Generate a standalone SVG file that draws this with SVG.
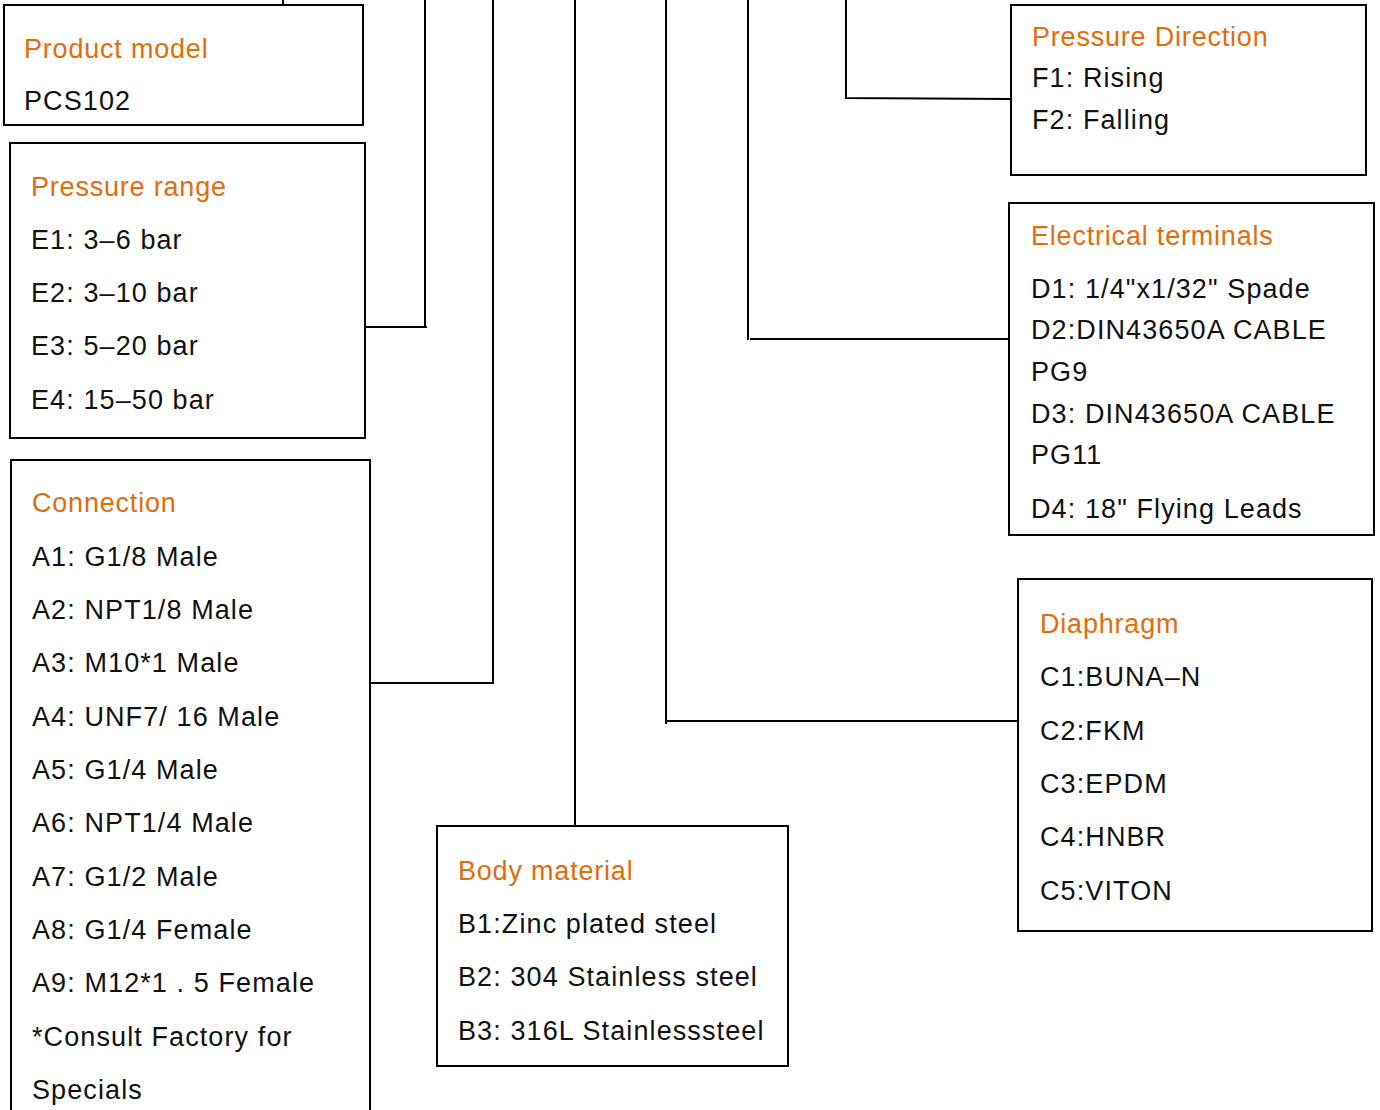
<svg xmlns="http://www.w3.org/2000/svg" width="1380" height="1110" viewBox="0 0 1380 1110">
<style>
.box{fill:#fff;stroke:#000;stroke-width:2}
.ln{fill:none;stroke:#000;stroke-width:2}
text{font-family:"Liberation Sans","Noto Sans CJK KR",sans-serif;font-size:27px;fill:#111;letter-spacing:1.1px}
.t{fill:#E46C0A;letter-spacing:0.8px}
</style>
<rect width="1380" height="1110" fill="#fff"/>
<g id="connectors">
<path class="ln" d="M283,0V4"/>
<path class="ln" d="M425,0V328M365,327H427"/>
<path class="ln" d="M493,0V683M370,683H494"/>
<path class="ln" d="M575,0V826"/>
<path class="ln" d="M666,0V724M666,721H1018"/>
<path class="ln" d="M748,0V340M750,339H1008"/>
<path class="ln" d="M846,0V99M845,98L1011,99"/>
</g>
<g id="product-model">
<rect class="box" x="4" y="5" width="359" height="120"/>
<text class="t" x="24" y="58">Product model</text>
<text x="24" y="110">PCS102</text>
</g>
<g id="pressure-range">
<rect class="box" x="10" y="143" width="355" height="295"/>
<text class="t" x="31" y="196">Pressure range</text>
<text x="31" y="249">E1: 3–6 bar</text>
<text x="31" y="302">E2: 3–10 bar</text>
<text x="31" y="355">E3: 5–20 bar</text>
<text x="31" y="409">E4: 15–50 bar</text>
</g>
<g id="connection">
<rect class="box" x="11" y="460" width="359" height="660"/>
<text class="t" x="32" y="512">Connection</text>
<text x="32" y="566">A1: G1/8 Male</text>
<text x="32" y="619">A2: NPT1/8 Male</text>
<text x="32" y="672">A3: M10*1 Male</text>
<text x="32" y="726">A4: UNF7/ 16 Male</text>
<text x="32" y="779">A5: G1/4 Male</text>
<text x="32" y="832">A6: NPT1/4 Male</text>
<text x="32" y="886">A7: G1/2 Male</text>
<text x="32" y="939">A8: G1/4 Female</text>
<text x="32" y="992">A9: M12*1 . 5 Female</text>
<text x="32" y="1046">*Consult Factory for</text>
<text x="32" y="1099">Specials</text>
</g>
<g id="body-material">
<rect class="box" x="437" y="826" width="351" height="240"/>
<text class="t" x="458" y="880">Body material</text>
<text x="458" y="933">B1:Zinc plated steel</text>
<text x="458" y="986">B2: 304 Stainless steel</text>
<text x="458" y="1040">B3: 316L Stainlesssteel</text>
</g>
<g id="pressure-direction">
<rect class="box" x="1011" y="5" width="355" height="170"/>
<text class="t" x="1032" y="46">Pressure Direction</text>
<text x="1032" y="87">F1: Rising</text>
<text x="1032" y="129">F2: Falling</text>
</g>
<g id="electrical-terminals">
<rect class="box" x="1009" y="203" width="365" height="332"/>
<text class="t" x="1031" y="245">Electrical terminals</text>
<text x="1031" y="298">D1: 1/4"x1/32" Spade</text>
<text x="1031" y="339">D2:DIN43650A CABLE</text>
<text x="1031" y="381">PG9</text>
<text x="1031" y="423">D3: DIN43650A CABLE</text>
<text x="1031" y="464">PG11</text>
<text x="1031" y="518">D4: 18" Flying Leads</text>
</g>
<g id="diaphragm">
<rect class="box" x="1018" y="579" width="354" height="352"/>
<text class="t" x="1040" y="633">Diaphragm</text>
<text x="1040" y="686">C1:BUNA–N</text>
<text x="1040" y="740">C2:FKM</text>
<text x="1040" y="793">C3:EPDM</text>
<text x="1040" y="846">C4:HNBR</text>
<text x="1040" y="900">C5:VITON</text>
</g>
</svg>
